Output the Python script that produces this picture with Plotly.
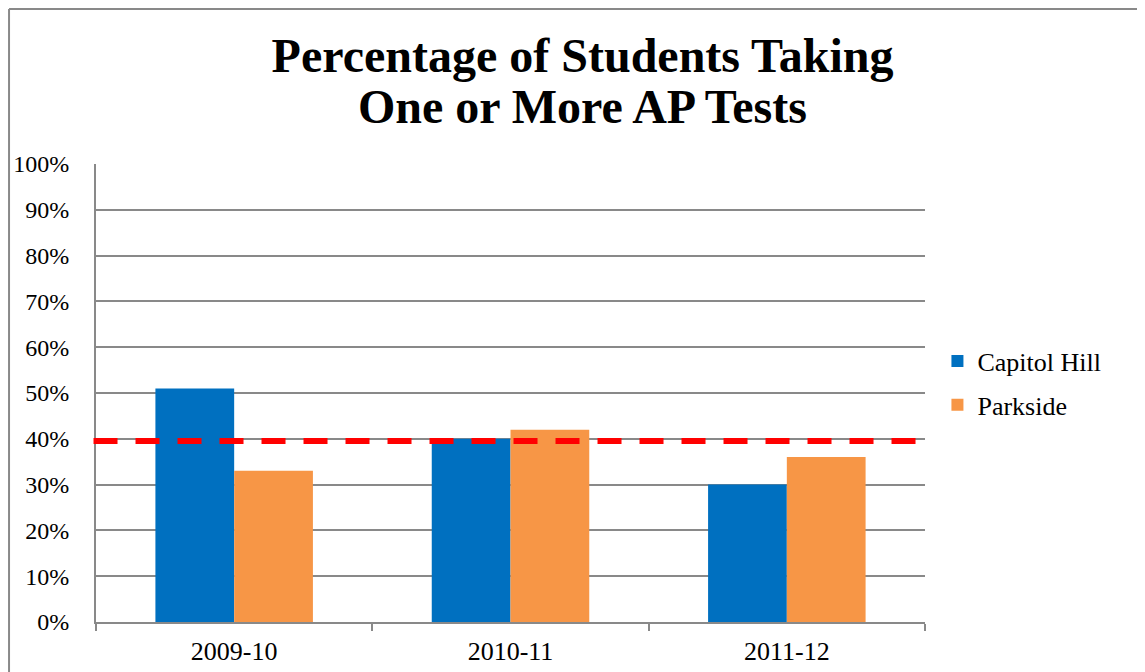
import plotly.graph_objects as go

years = ["2009-10", "2010-11", "2011-12"]
capitol_hill = [51, 40, 30]
parkside = [33, 42, 36]
target = 39.5
y_ticks = [0, 10, 20, 30, 40, 50, 60, 70, 80, 90, 100]
y_tick_labels = [f"{v}%" for v in y_ticks]
title_lines = ["Percentage of Students Taking", "One or More AP Tests"]

FONT = "Liberation Serif"
GRAY = "#898989"

fig = go.Figure()
fig.add_trace(go.Bar(name="Capitol Hill", x=years, y=capitol_hill,
                     marker=dict(color="#0070C0", line=dict(width=0)),
                     legendgroup="a"))
fig.add_trace(go.Bar(name="Parkside", x=years, y=parkside,
                     marker=dict(color="#F79646", line=dict(width=0)),
                     legendgroup="b"))

fig.add_shape(type="line", xref="paper", yref="y", x0=-0.003, x1=1.0,
              y0=target, y1=target,
              line=dict(color="#FF0000", width=6, dash="24px,18px"), layer="above")

# outer chart border (top and left)
fig.add_shape(type="line", xref="paper", yref="paper", x0=-0.1049, x1=1.4,
              y0=1.3384, y1=1.3384, line=dict(color=GRAY, width=2))
fig.add_shape(type="line", xref="paper", yref="paper", x0=-0.1049, x1=-0.1049,
              y0=-0.2, y1=1.3384, line=dict(color=GRAY, width=2))

fig.update_layout(
    width=1137, height=664,
    margin=dict(l=88, r=220, t=156, b=50, autoexpand=False),
    paper_bgcolor="white", plot_bgcolor="white",
    barmode="group", bargap=0.43, bargroupgap=0,
    font=dict(family=FONT, color="black"),
    title=dict(text="<b>" + title_lines[0] + "</b>",
               xref="paper", x=0.5869, xanchor="center",
               yref="container", y=0.9292, yanchor="middle",
               font=dict(family=FONT, size=48, color="black")),
    legend=dict(x=1.015, xanchor="left", y=0.5215, yanchor="middle",
                font=dict(family=FONT, size=26, color="black"),
                tracegroupgap=7, traceorder="grouped",
                bgcolor="rgba(0,0,0,0)"),
    showlegend=True,
)
fig.add_annotation(text="<b>" + title_lines[1] + "</b>", xref="paper", yref="paper",
                   x=0.5869, y=1.1245, xanchor="center", yanchor="middle",
                   showarrow=False, font=dict(family=FONT, size=48, color="black"))

fig.update_xaxes(type="category", showline=True, linecolor=GRAY, linewidth=2,
                 ticks="outside", tickson="boundaries", ticklen=7,
                 tickcolor=GRAY, tickwidth=2,
                 tickfont=dict(family=FONT, size=26, color="black"),
                 ticklabelstandoff=5, showgrid=False, automargin=False)
fig.update_yaxes(range=[0, 100], tickvals=y_ticks, ticktext=y_tick_labels,
                 showline=True, linecolor=GRAY, linewidth=2,
                 showgrid=True, gridcolor=GRAY, gridwidth=2,
                 ticks="", ticklabelstandoff=20,
                 tickfont=dict(family=FONT, size=24, color="black"),
                 zeroline=False, automargin=False)

fig.write_html("out.html")
